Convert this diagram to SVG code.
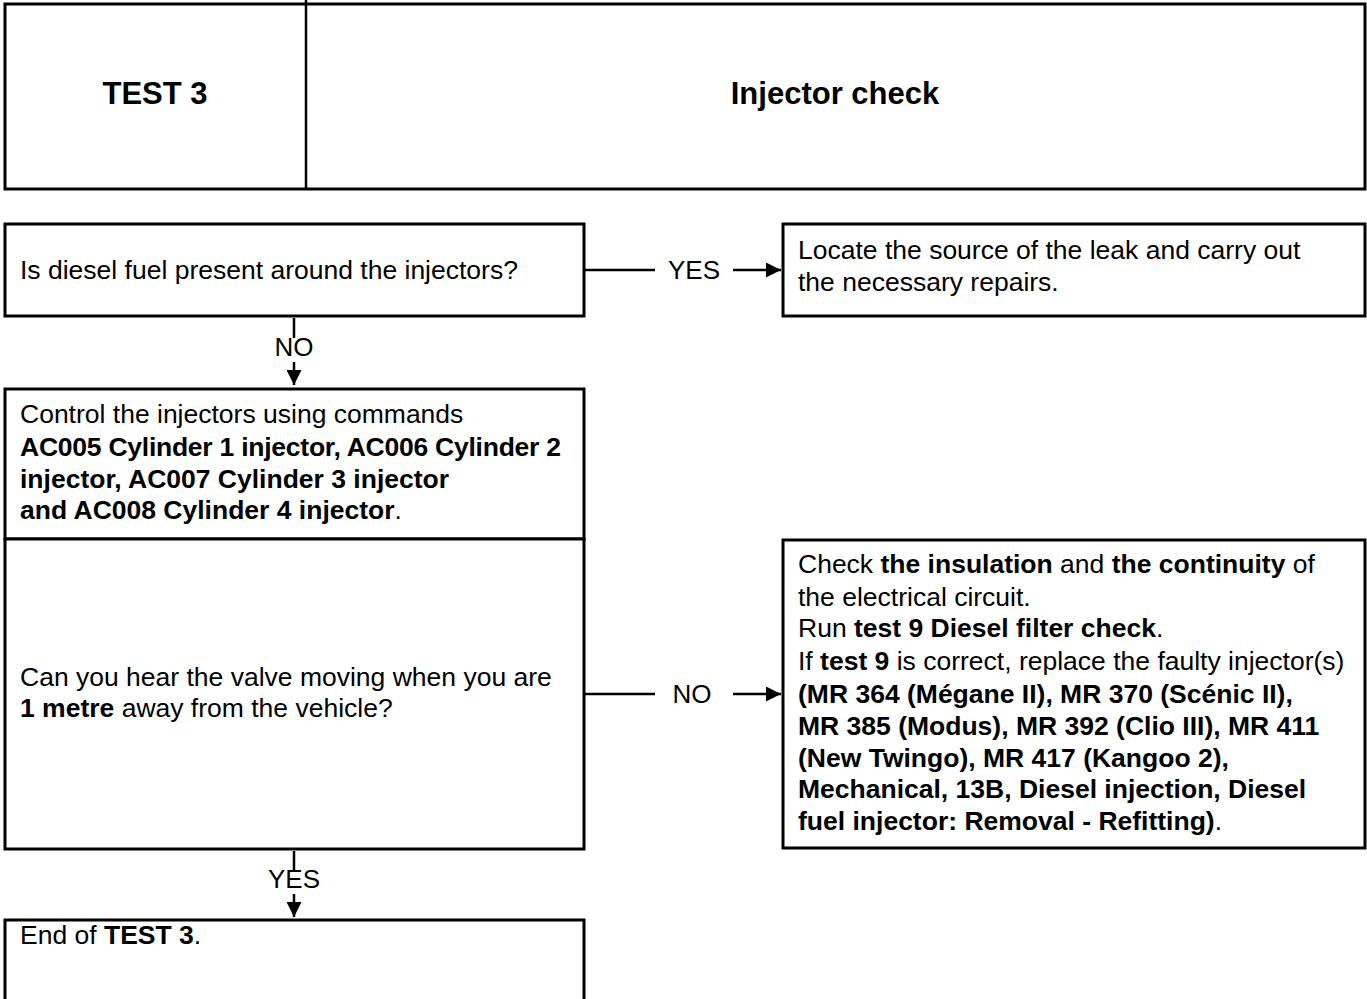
<svg xmlns="http://www.w3.org/2000/svg" width="1367" height="999" viewBox="0 0 1367 999">
  <style>
    .box { fill: #ffffff; stroke: #000000; stroke-width: 3; }
    .line { stroke: #000000; stroke-width: 2.5; fill: none; }
    .txt { font-family: "Liberation Sans", Arial, sans-serif; font-size: 26.5px; fill: #000000; }
    .b { font-weight: bold; }
    .title { font-family: "Liberation Sans", Arial, sans-serif; font-size: 31px; font-weight: bold; fill: #000000; text-anchor: middle; }
    .lbl { font-family: "Liberation Sans", Arial, sans-serif; font-size: 26px; fill: #000000; text-anchor: middle; }
  </style>
  <defs>
    <marker id="arrow" viewBox="0 0 15 15" refX="15" refY="7.5" markerWidth="15" markerHeight="15" markerUnits="userSpaceOnUse" orient="auto">
      <path d="M0,0 L15,7.5 L0,15 Z" fill="#000000"/>
    </marker>
  </defs>
  <rect width="1367" height="999" fill="#ffffff"/>

  <!-- header -->
  <g id="header">
    <rect class="box" x="5" y="4" width="1360" height="185"/>
    <line class="line" x1="306" y1="0" x2="306" y2="189" stroke-width="3"/>
    <text class="title" x="155" y="104">TEST 3</text>
    <text class="title" x="835" y="104">Injector check</text>
  </g>

  <!-- connectors -->
  <g id="connectors">
    <line class="line" x1="584" y1="270" x2="655" y2="270"/>
    <text class="lbl" x="694" y="279">YES</text>
    <line class="line" x1="733" y1="270" x2="781" y2="270" marker-end="url(#arrow)"/>

    <line class="line" x1="294" y1="318" x2="294" y2="338"/>
    <text class="lbl" x="294" y="356">NO</text>
    <line class="line" x1="294" y1="362" x2="294" y2="385" marker-end="url(#arrow)"/>

    <line class="line" x1="584" y1="694" x2="655" y2="694"/>
    <text class="lbl" x="692" y="703">NO</text>
    <line class="line" x1="733" y1="694" x2="781" y2="694" marker-end="url(#arrow)"/>

    <line class="line" x1="294" y1="851" x2="294" y2="872"/>
    <text class="lbl" x="294" y="888">YES</text>
    <line class="line" x1="294" y1="894" x2="294" y2="917" marker-end="url(#arrow)"/>
  </g>

  <g id="q-fuel">
    <rect class="box" x="5" y="224" width="579" height="92"/>
    <text class="txt" x="20" y="279">Is diesel fuel present around the injectors?</text>
  </g>

  <g id="leak-repair">
    <rect class="box" x="783" y="224" width="582" height="92"/>
    <text class="txt" x="798" y="259">Locate the source of the leak and carry out</text>
    <text class="txt" x="798" y="291">the necessary repairs.</text>
  </g>

  <g id="control-injectors">
    <rect class="box" x="5" y="389" width="579" height="150"/>
    <text class="txt" x="20" y="423">Control the injectors using commands</text>
    <text class="txt b" x="20" y="456" textLength="541">AC005 Cylinder 1 injector, AC006 Cylinder 2</text>
    <text class="txt b" x="20" y="488">injector, AC007 Cylinder 3 injector</text>
    <text class="txt" x="20" y="519"><tspan class="b">and AC008 Cylinder 4 injector</tspan>.</text>
  </g>

  <g id="q-valve">
    <rect class="box" x="5" y="539" width="579" height="310"/>
    <text class="txt" x="20" y="686">Can you hear the valve moving when you are</text>
    <text class="txt" x="20" y="717"><tspan class="b">1 metre</tspan> away from the vehicle?</text>
  </g>

  <g id="check-circuit">
    <rect class="box" x="783" y="540" width="582" height="308"/>
    <text class="txt" x="798" y="573">Check <tspan class="b">the insulation</tspan> and <tspan class="b">the continuity</tspan> of</text>
    <text class="txt" x="798" y="606">the electrical circuit.</text>
    <text class="txt" x="798" y="637">Run <tspan class="b">test 9 Diesel filter check</tspan>.</text>
    <text class="txt" x="798" y="670">If <tspan class="b">test 9</tspan> is correct, replace the faulty injector(s)</text>
    <text class="txt b" x="798" y="703">(MR 364 (Mégane II), MR 370 (Scénic II),</text>
    <text class="txt b" x="798" y="735">MR 385 (Modus), MR 392 (Clio III), MR 411</text>
    <text class="txt b" x="798" y="767">(New Twingo), MR 417 (Kangoo 2),</text>
    <text class="txt b" x="798" y="798">Mechanical, 13B, Diesel injection, Diesel</text>
    <text class="txt" x="798" y="830"><tspan class="b">fuel injector: Removal - Refitting)</tspan>.</text>
  </g>

  <g id="end-test">
    <rect class="box" x="5" y="920" width="579" height="90"/>
    <text class="txt" x="20" y="944">End of <tspan class="b">TEST 3</tspan>.</text>
  </g>
</svg>
